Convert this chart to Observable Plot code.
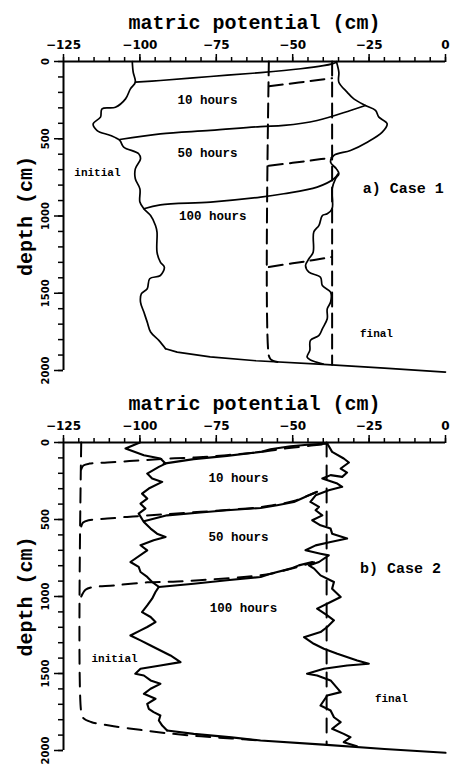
<!DOCTYPE html>
<html><head><meta charset="utf-8">
<script src="https://cdn.jsdelivr.net/npm/d3@7"></script>
<script src="https://cdn.jsdelivr.net/npm/@observablehq/plot@0.6"></script>
<style>
body{margin:0;background:#fff;}
#c{width:451px;}
#c svg{display:block;overflow:visible;}
</style></head><body><div id="c"></div>
<script>
// ---- axis values and texts ----
const xTickValues = [-125, -100, -75, -50, -25, 0];
const xMinorTicks = d3.range(-125, 0.1, 5);
const yTickValues = [0, 500, 1000, 1500, 2000];
const yMinorTicks = d3.range(0, 2001, 100);
const xTitle = "matric potential (cm)";
const yTitle = "depth (cm)";

// ---- Case 1: [matric potential, depth] ----
const a_initial = [[-102.5,0],[-102.2,69],[-101.5,134],[-103.1,177],[-104.7,242],[-108,296],[-112.4,306],[-112.9,360],[-115.3,403],[-114,447],[-109.6,479],[-106.6,511],[-105.3,554],[-100.4,597],[-99.8,630],[-101.5,695],[-101.5,759],[-100,824],[-100,910],[-98.7,953],[-96.5,997],[-94.9,1061],[-94.4,1104],[-94.4,1234],[-93.3,1299],[-92,1331],[-93.3,1385],[-96.8,1406],[-97.6,1471],[-99.5,1503],[-99.8,1557],[-98.7,1622],[-97.6,1687],[-96.5,1751],[-93.8,1805],[-91.6,1859]];
const a_bottom = [[-91.6,1859],[-87.8,1881],[-77,1912],[-62,1937],[-40,1960],[-20,1985],[0,2010]];
const a_final = [[-35.7,0],[-34.9,69],[-34.9,134],[-32.2,198],[-30,242],[-26.2,285],[-22.9,317],[-21.8,360],[-19.1,403],[-20.7,457],[-25.6,522],[-31.1,576],[-36.5,608],[-37.6,651],[-35.7,695],[-34.9,727],[-36,759],[-37.1,824],[-37.1,953],[-38.7,986],[-40.3,997],[-41.4,1061],[-43.1,1104],[-43.3,1234],[-44.7,1277],[-45.8,1320],[-44.7,1363],[-40.9,1396],[-40.3,1450],[-37.6,1493],[-37.6,1557],[-38.7,1601],[-38.7,1665],[-40.3,1730],[-41.4,1773],[-44.2,1805],[-44.4,1870],[-45.3,1913],[-44.2,1932],[-40,1958]];
const a_front10 = [[-101.5,134],[-93.3,123],[-76.9,97],[-60.5,72],[-47.4,47],[-40,27],[-37.1,15],[-35.7,5]];
const a_front50 = [[-106.6,505],[-93.3,468],[-76.9,446],[-60.5,421],[-52.9,414],[-42,382],[-31.1,317],[-26.2,285]];
const a_front100 = [[-98.7,953],[-93.3,928],[-76.9,910],[-60.5,878],[-52.9,856],[-42,813],[-36.5,759],[-35.2,727]];
const a_dashInitial = [[-57.8,0],[-57.8,1905],[-57.2,1928],[-55,1945]];
const a_dashFinal = [[-37.1,0],[-37.1,1962]];
const a_dash10 = [[-57.8,160],[-48,136],[-41,118],[-37.1,108]];
const a_dash50 = [[-57.8,675],[-50,656],[-43,638],[-37.1,622]];
const a_dash100 = [[-57.8,1330],[-50,1306],[-43,1285],[-37.1,1265]];

// ---- Case 2: [matric potential, depth] ----
const b_initial = [[-100,0],[-104.7,39],[-98.7,83],[-93.3,104],[-91.6,137],[-93.8,158],[-97.6,202],[-96,234],[-92.7,256],[-97.1,299],[-99.3,332],[-97.6,364],[-99.8,397],[-98.2,429],[-100.4,462],[-98.7,516],[-96.5,559],[-94.4,592],[-91.6,613],[-95.5,635],[-99.8,667],[-97.6,700],[-103.1,776],[-100.4,808],[-99.8,841],[-97.6,873],[-96,906],[-93.8,938],[-94.9,971],[-96,1014],[-97.6,1058],[-99.3,1101],[-96.5,1133],[-94.9,1166],[-97.6,1198],[-99.8,1220],[-103.1,1253],[-99.8,1285],[-96.5,1318],[-94.4,1339],[-90,1383],[-86.7,1426],[-93.3,1448],[-99.8,1469],[-101.5,1502],[-98.7,1513],[-96.5,1545],[-93.3,1567],[-96.5,1599],[-98.7,1632],[-94.9,1664],[-97.6,1697],[-97.1,1729],[-95.5,1751],[-93.3,1773],[-93.8,1805],[-92.7,1838],[-91.1,1870]];
const b_bottom = [[-91.1,1870],[-82.4,1892],[-70,1915],[-60.5,1935],[-40,1962],[-20,1990],[0,2015]];
const b_final = [[-38.7,5],[-38.5,13],[-37.1,61],[-33.3,104],[-31.6,130],[-34.3,169],[-32.2,195],[-33.8,223],[-37.6,212],[-40.3,234],[-35.4,267],[-33.8,288],[-38.2,310],[-42.5,343],[-44.2,386],[-41.4,418],[-42.5,440],[-40.3,473],[-43.6,505],[-40.9,538],[-37.6,559],[-37.1,592],[-32.2,624],[-37.6,646],[-42.5,668],[-45.8,700],[-40.9,722],[-38.2,733],[-41.4,776],[-44.7,798],[-43,819],[-40.9,863],[-36.5,906],[-37.1,949],[-34.3,1003],[-37.6,1036],[-42,1079],[-38.7,1123],[-36.5,1155],[-38.7,1198],[-40.9,1231],[-46.3,1264],[-43.1,1307],[-39.8,1339],[-35.4,1372],[-28.9,1415],[-25.1,1437],[-32.2,1448],[-39.8,1469],[-45.3,1502],[-42,1513],[-37.6,1545],[-34.3,1621],[-38.7,1643],[-40.9,1708],[-37.6,1740],[-36.5,1784],[-34.3,1816],[-37.1,1859],[-33.3,1892],[-31.1,1914],[-33.3,1946],[-29,1972]];
const b_front10 = [[-92.2,137],[-82.4,108],[-71.5,87],[-60.5,61],[-57.3,44],[-50.7,24],[-44.2,13],[-38.7,7]];
const b_front50 = [[-98.7,511],[-91.1,473],[-80.2,455],[-71.5,440],[-60.5,425],[-55.1,407],[-49.6,386],[-44.7,343],[-42.5,325]];
const b_front100 = [[-93.8,938],[-82.4,917],[-71.5,895],[-60.5,873],[-57.3,852],[-50.7,819],[-48,798],[-43.6,776]];
const b_dashInitial = [[-119.2,0],[-119.2,1751],[-118.5,1790],[-116,1815],[-110,1838],[-100,1866],[-90,1890],[-80,1908],[-70,1922],[-60.5,1935]];
const b_dashFinal = [[-38.9,0],[-38.9,1963]];
const b_dash10 = [[-119.2,175],[-118.5,150],[-116.5,137],[-110.7,130],[-102,119],[-92,106],[-82,97],[-71.5,82],[-60.5,62],[-52,38],[-44,20],[-39,10]];
const b_dash50 = [[-119.2,545],[-118.6,520],[-116.8,505],[-110.7,494],[-104.2,483],[-99.8,477],[-91,465],[-80,450],[-70,436],[-60.5,420],[-55,402],[-49.6,380],[-45,345],[-42,320]];
const b_dash100 = [[-119.2,1000],[-117.8,956],[-115.6,940],[-108.5,928],[-97.6,908],[-87.8,903],[-76.9,889],[-66,873],[-58,855],[-51,822],[-47,800],[-43,778]];

// ---- annotation texts ----
const a_labels = ["10 hours", "50 hours", "100 hours", "initial", "a) Case 1", "final"];
const b_labels = ["10 hours", "50 hours", "100 hours", "initial", "b) Case 2", "final"];

const MONO = "'Liberation Mono', 'DejaVu Sans Mono', monospace";
const SANS = "'DejaVu Sans', sans-serif";

function panel(cfg) {
  const X = d => d[0], Y = d => d[1];
  const solid = (data, curve) => Plot.line(data, {x: X, y: Y, stroke: "#000", strokeWidth: cfg.sw, curve: curve || cfg.curve, strokeLinejoin: "round"});
  const dashed = (data) => Plot.line(data, {x: X, y: Y, stroke: "#000", strokeWidth: cfg.dw, curve: "catmull-rom", strokeDasharray: cfg.dash});
  const L = cfg.labels, P = cfg.labelPos;
  const labelMarks = L.map((t, i) => Plot.text([t], {
    x: P[i][0], y: P[i][1], text: d => d,
    fontFamily: MONO, fontWeight: "bold", fontSize: P[i][2], letterSpacing: P[i][3], fill: "#000"
  }));
  return Plot.plot({
    width: 451, height: cfg.height,
    marginTop: cfg.marginTop, marginBottom: cfg.marginBottom, marginLeft: 63, marginRight: 6,
    x: {domain: [-125, 0]},
    y: {domain: [0, 2000], reverse: true},
    style: {background: "#fff", color: "#000", overflow: "visible"},
    marks: [
      Plot.axisX({anchor: "top", ticks: xMinorTicks, tickSize: 5, tickFormat: () => "", label: null, strokeWidth: 1.5}),
      Plot.axisX({anchor: "top", ticks: xTickValues, tickSize: 8, tickPadding: 5, label: null, strokeWidth: 1.5,
        fontFamily: SANS, fontWeight: "bold", fontSize: 12}),
      Plot.axisY({anchor: "left", ticks: yMinorTicks, tickSize: 5, tickFormat: () => "", label: null, strokeWidth: 1.5}),
      Plot.axisY({anchor: "left", ticks: yTickValues, tickSize: 9, tickFormat: () => "", label: null, strokeWidth: 1.5}),
      Plot.text(yTickValues, {y: d => d, text: d => String(d), frameAnchor: "left", dx: -18, rotate: -90,
        textAnchor: "middle", lineAnchor: "middle",
        fontFamily: SANS, fontWeight: "bold", fontSize: 10, fill: "#000"}),
      Plot.ruleY([0], {x1: -125, x2: 0, stroke: "#000", strokeWidth: 2}),
      Plot.ruleX([-125], {y1: 0, y2: 2000, stroke: "#000", strokeWidth: 2}),
      Plot.text([xTitle], {text: d => d, frameAnchor: "top", dy: -39, textAnchor: "middle", lineAnchor: "middle",
        fontFamily: MONO, fontWeight: "bold", fontSize: 20, letterSpacing: "1.3px", fill: "#000"}),
      Plot.text([yTitle], {text: d => d, frameAnchor: "left", dx: -38, rotate: -90, textAnchor: "middle", lineAnchor: "middle",
        fontFamily: MONO, fontWeight: "bold", fontSize: 20, letterSpacing: "1.8px", fill: "#000"}),
      ...cfg.dashedSets.map(dashed),
      solid(cfg.initial), solid(cfg.final), solid(cfg.bottom, "linear"),
      ...cfg.fronts.map(f => solid(f)),
      ...labelMarks
    ]
  });
}

const c = document.getElementById("c");
c.appendChild(panel({
  height: 380, marginTop: 61, marginBottom: 10, sw: 1.7, dw: 2, dash: "14,7", curve: "catmull-rom",
  initial: a_initial, final: a_final, bottom: a_bottom,
  fronts: [a_front10, a_front50, a_front100],
  dashedSets: [a_dashInitial, a_dashFinal, a_dash10, a_dash50, a_dash100],
  labels: a_labels,
  labelPos: [[-77.9,252,12.5,"0.6px"],[-77.9,595,12.5,"0.6px"],[-76.2,997,12.5,"0.6px"],[-113.9,718,11,"0px"],[-13.8,822,15,"0.6px"],[-22.6,1760,11,"0px"]]
}));
c.appendChild(panel({
  height: 389, marginTop: 62, marginBottom: 19, sw: 2.1, dw: 2, dash: "14,9", curve: "linear",
  initial: b_initial, final: b_final, bottom: b_bottom,
  fronts: [b_front10, b_front50, b_front100],
  dashedSets: [b_dashInitial, b_dashFinal, b_dash10, b_dash50, b_dash100],
  labels: b_labels,
  labelPos: [[-67.7,232,12.5,"0.6px"],[-67.7,616,12.5,"0.6px"],[-66.1,1077,12.5,"0.6px"],[-108.3,1402,11,"0px"],[-14.7,817,15,"0.6px"],[-17.7,1662,11,"0px"]]
}));
</script>
</body></html>
